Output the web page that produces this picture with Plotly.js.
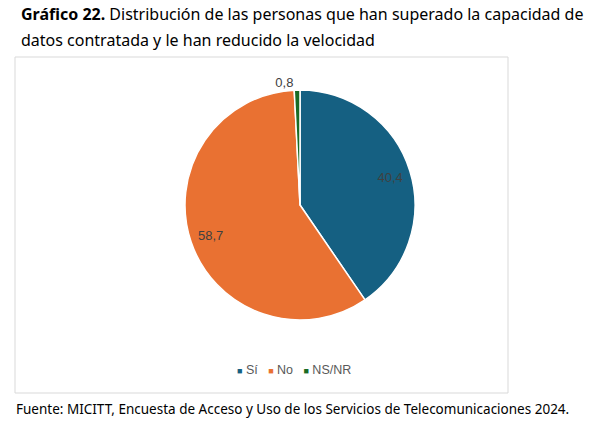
<!DOCTYPE html>
<html>
<head>
<meta charset="utf-8">
<script src="https://cdn.plot.ly/plotly-3.0.1.min.js"></script>
<style>html,body{margin:0;padding:0;background:#fff;}#chart{width:600px;height:429px;}</style>
</head>
<body>
<div id="chart"></div>
<script>
const categories = ['Sí', 'No', 'NS/NR'];
const values = [40.4, 58.7, 0.8];
const valueLabels = ['40,4', '58,7', '0,8'];
const colors = ['#156082', '#E97132', '#196B24'];
const labelPositions = ['inside', 'inside', 'outside'];

const pieDomain = {x: [185/600, 415/600], y: [1 - 320/429, 1 - 90/429]};
const labelFont = {family: 'Liberation Sans, Arial, sans-serif', size: 13, color: '#404040'};

const pieTrace = {
  type: 'pie',
  labels: categories,
  values: values,
  textinfo: 'none',
  sort: false,
  direction: 'clockwise',
  rotation: 0,
  marker: {colors: colors, line: {color: '#ffffff', width: 1.5}},
  domain: pieDomain,
  showlegend: false,
  hoverinfo: 'none'
};

// transparent ring used only to place the data labels near the rim
const labelTrace = {
  type: 'pie',
  labels: categories,
  values: values,
  text: valueLabels,
  textinfo: 'text',
  textposition: labelPositions,
  insidetextorientation: 'horizontal',
  hole: 0.64,
  sort: false,
  direction: 'clockwise',
  rotation: 0,
  marker: {colors: ['rgba(0,0,0,0)', 'rgba(0,0,0,0)', 'rgba(0,0,0,0)'], line: {width: 0}},
  textfont: labelFont,
  insidetextfont: labelFont,
  outsidetextfont: labelFont,
  domain: pieDomain,
  showlegend: false,
  hoverinfo: 'none'
};

const legendText = categories.map((c, i) =>
  '<span style="color:' + colors[i] + ';font-size:9px">■</span> ' + c
).join('   ');

const layout = {
  width: 600,
  height: 429,
  margin: {l: 0, r: 0, t: 0, b: 0},
  paper_bgcolor: '#ffffff',
  font: {family: 'Noto Sans, sans-serif', color: '#000'},
  showlegend: false,
  shapes: [{
    type: 'rect', xref: 'paper', yref: 'paper',
    x0: 15/600, x1: 508/600, y0: 1 - 393/429, y1: 1 - 57/429,
    line: {color: '#d9d9d9', width: 1}, fillcolor: 'rgba(0,0,0,0)', layer: 'below'
  }],
  annotations: [
    {
      text: '<b>Gráfico 22.</b> Distribución de las personas que han superado la capacidad de',
      xref: 'paper', yref: 'paper', x: 19/600, y: 1 - 14/429,
      xanchor: 'left', yanchor: 'middle', showarrow: false,
      font: {family: 'Noto Sans, sans-serif', size: 16, color: '#000'}
    },
    {
      text: 'datos contratada y le han reducido la velocidad',
      xref: 'paper', yref: 'paper', x: 19/600, y: 1 - 40/429,
      xanchor: 'left', yanchor: 'middle', showarrow: false,
      font: {family: 'Noto Sans, sans-serif', size: 16, color: '#000'}
    },
    {
      text: legendText,
      xref: 'paper', yref: 'paper', x: 294/600, y: 1 - 370/429,
      xanchor: 'center', yanchor: 'middle', showarrow: false,
      font: {family: 'Liberation Sans, Arial, sans-serif', size: 12.5, color: '#595959'}
    },
    {
      text: 'Fuente: MICITT, Encuesta de Acceso y Uso de los Servicios de Telecomunicaciones 2024.',
      xref: 'paper', yref: 'paper', x: 14/600, y: 1 - 409/429,
      xanchor: 'left', yanchor: 'middle', showarrow: false,
      font: {family: 'Noto Sans, sans-serif', size: 13.5, color: '#000'}
    }
  ]
};

Plotly.newPlot('chart', [pieTrace, labelTrace], layout, {displayModeBar: false, staticPlot: true});
</script>
</body>
</html>
